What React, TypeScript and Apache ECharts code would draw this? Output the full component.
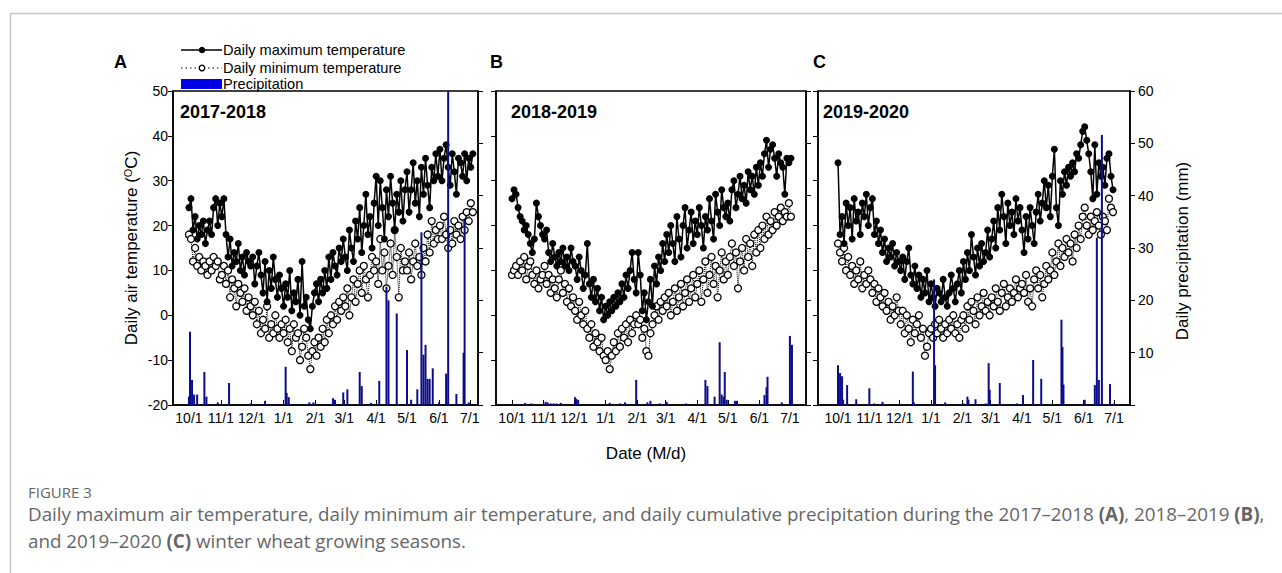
import React, { useEffect, useRef } from "react";
import * as echarts from "echarts";

// ---- axis ticks (days counted from 1 October) ----
const tickDays = [0, 31, 61, 92, 123, 151, 182, 212, 243, 273];
const tickLabels = ["10/1", "11/1", "12/1", "1/1", "2/1", "3/1", "4/1", "5/1", "6/1", "7/1"];
const STEP = 2; // temperature samples every 2 days from 1 October

// ---- 2017-2018 ----
const tmaxA = [
  24, 26, 19, 22, 17, 20, 18, 21, 16, 19, 21, 18, 24, 26, 20, 25,
  22, 26, 18, 13, 17, 11, 14, 12, 16, 10, 13, 9, 14, 12, 11,
  13, 7, 11, 14, 9, 5, 12, 3, 10, 6, 13, 8, 4, 9, 6,
  2, 7, 4, 10, 1, 5, 3, 8, 0, 12, 2, 4, -1, -3, 2, 5,
  7, 3, 8, 5, 10, 6, 13, 8, 14, 11, 9, 15, 12, 17,
  13, 10, 19, 15, 12, 21, 17, 24, 14, 20, 27, 18, 22, 15, 25,
  31, 20, 30, 24, 17, 28, 22, 31, 25, 19, 27, 23, 30, 21, 28,
  32, 23, 28, 34, 25, 30, 22, 33, 27, 35, 29, 24, 33, 30, 36, 31,
  37, 30, 35, 38, 33, 29, 36, 32, 27, 35, 34, 31, 36, 30, 35,
  33, 36,
];
const tminA = [
  18, 17, 12, 15, 11, 13, 10, 12, 11, 9, 12, 10, 13, 11, 12, 8,
  9, 11, 7, 10, 4, 8, 6, 2, 7, 5, 3, 6, 1, 4, 2,
  0, 3, -2, 1, -4, -1, -3, 2, -5, -2, -4, 0, -3, -5, -2,
  -4, -1, -6, -3, -8, -2, -5, -4, -10, -7, -3, -5, -9, -12, -8, -6,
  -9, -5, -7, -3, -6, -1, -4, 0, -2, 2, -1, 3, 1, 4,
  2, 6, 0, 4, 8, 3, 7, 10, 5, 11, 8, 4, 9, 13, 10,
  12, 7, 17, 10, 14, 6, 11, 16, 9, 19, 13, 4, 15, 10, 12,
  10, 14, 8, 12, 16, 11, 13, 9, 15, 12, 18, 14, 21, 16, 19, 17,
  20, 17, 22, 18, 15, 19, 16, 21, 18, 20, 17, 22, 19, 23, 21,
  25, 23,
];
const rainDaysA = [0, 1, 3, 5, 8, 15, 17, 28, 39, 60, 74, 94, 95, 97, 117, 121, 140, 142, 150, 154, 166, 168, 177, 185, 192, 194, 202, 212, 216, 222, 226, 228, 230, 232, 234, 237, 243, 250, 252, 260, 267, 268, 272];
const rainA = [1.6, 14, 4.8, 2, 2, 6.3, 1.6, 0.5, 4.2, 0.3, 0.8, 7.3, 2.3, 1.5, 0.5, 0.5, 1.3, 1, 2.4, 3, 6.3, 3.6, 0.4, 4.6, 22.6, 20, 17.5, 10.5, 1, 3, 33, 9.6, 11.5, 5, 5, 7, 0.5, 6, 65, 2.1, 10, 35.4, 0.5];

// ---- 2018-2019 ----
const tmaxB = [
  26, 28, 27, 24, 22, 21, 19, 20, 18, 16, 14, 17, 25, 22, 20, 18,
  17, 19, 14, 12, 16, 13, 11, 14, 12, 15, 11, 13, 10, 15, 12,
  11, 8, 13, 10, 6, 9, 16, 7, 4, 8, 3, 6, 1, 4, -1,
  2, 0, 3, 1, 4, 2, 5, 3, 7, 4, 9, 6, 10, 14, 8, 5,
  14, 9, 1, 5, -1, 3, 8, 2, 11, 7, 13, 10, 16, 12,
  18, 14, 20, 16, 12, 22, 17, 13, 20, 24, 15, 19, 23, 16, 21,
  18, 24, 20, 15, 22, 19, 26, 21, 17, 27, 23, 20, 28, 24, 22,
  25, 21, 28, 30, 24, 27, 31, 26, 29, 25, 32, 28, 31, 27, 33, 29,
  34, 31, 36, 39, 33, 37, 38, 35, 31, 36, 34, 33, 27, 35, 34,
  35,
];
const tminB = [
  9, 10, 11, 9, 12, 10, 13, 8, 11, 12, 9, 7, 10, 6, 8, 9,
  11, 7, 9, 5, 8, 6, 4, 8, 10, 5, 7, 3, 6, 2, 4,
  1, -1, 3, 0, -2, 1, -3, -5, -2, -7, -4, -6, -8, -5, -9,
  -10, -8, -12, -9, -6, -8, -4, -7, -3, -5, -2, -6, -1, -4, -2, 0,
  -2, -1, -5, -3, -8, -9, -4, -2, 0, 2, -1, 3, 1, 4,
  2, 5, 0, 3, 6, 1, 4, 7, 2, 5, 8, 3, 6, 9, 4,
  7, 10, 3, 8, 12, 5, 9, 13, 7, 11, 4, 10, 14, 8, 12,
  9, 13, 16, 11, 14, 6, 12, 15, 10, 17, 13, 16, 11, 18, 14, 19,
  15, 20, 17, 22, 18, 21, 19, 23, 20, 22, 24, 21, 23, 22, 25,
  22,
];
const rainDaysB = [13, 19, 33, 35, 38, 41, 44, 48, 62, 63, 65, 96, 106, 111, 122, 133, 136, 145, 152, 171, 190, 192, 199, 204, 206, 208, 209, 211, 219, 221, 248, 250, 251, 265, 273, 275];
const rainB = [0.4, 0.3, 0.6, 0.5, 0.3, 0.3, 0.3, 0.4, 1.5, 1.2, 1, 0.4, 0.3, 0.5, 4.8, 0.5, 0.8, 0.3, 0.6, 0.3, 4.8, 3.6, 1.6, 12, 2, 1.6, 6.3, 1, 0.8, 0.8, 1.9, 3.4, 5.4, 0.5, 13.2, 11.5];

// ---- 2019-2020 ----
const tmaxC = [
  34, 18, 22, 16, 25, 20, 24, 17, 26, 21, 23, 18, 25, 22, 27, 20,
  24, 26, 18, 21, 16, 19, 14, 17, 12, 15, 13, 16, 11, 14, 12,
  10, 13, 8, 12, 15, 9, 7, 11, 6, 9, 4, 8, 5, 10, 3,
  7, 4, 2, 6, 5, 3, 8, 4, 2, 5, 9, 6, 3, 7, 10, 5,
  12, 8, 14, 10, 18, 13, 9, 15, 11, 16, 12, 14, 19, 13,
  17, 21, 15, 24, 19, 27, 22, 16, 25, 20, 23, 18, 26, 21, 24,
  19, 14, 22, 17, 24, 20, 16, 23, 27, 21, 25, 30, 24, 29, 22,
  31, 37, 24, 20, 30, 27, 32, 29, 33, 31, 34, 32, 36, 35, 38, 41,
  42, 39, 36, 32, 26, 38, 27, 34, 31, 33, 29, 35, 36, 31, 28,
];
const tminC = [
  16, 14, 12, 15, 10, 13, 9, 11, 7, 10, 8, 12, 6, 9, 7, 10,
  8, 5, 7, 3, 6, 4, 2, 5, 1, 3, -1, 2, 0, 4, 1,
  -2, 1, -4, 0, -3, -6, -1, -4, -2, 0, -5, -3, -9, -7, -4,
  -3, -5, -2, -4, -1, -3, -5, -2, -4, -1, -3, 0, -4, -2, -5, -1,
  0, -3, 2, -1, 3, 1, -2, 4, 0, 2, 5, 1, 3, 0,
  4, 2, 6, 3, 1, 5, 7, 2, 4, 6, 3, 5, 8, 4, 6,
  7, 5, 9, 3, 6, 2, 8, 10, 6, 9, 4, 7, 11, 8, 10,
  14, 9, 12, 16, 11, 15, 13, 17, 14, 16, 12, 18, 15, 20, 17, 22,
  24, 20, 18, 22, 19, 21, 23, 20, 18, 22, 21, 19, 26, 24, 23,
];
const rainDaysC = [0, 1, 2, 4, 5, 9, 18, 31, 36, 44, 74, 75, 95, 96, 106, 124, 128, 129, 136, 146, 149, 150, 160, 177, 183, 193, 201, 221, 222, 223, 244, 254, 256, 258, 261, 269, 273];
const rainC = [7.6, 1, 6.1, 5.5, 1, 3.8, 1.1, 3.2, 0.3, 0.6, 6.4, 0.5, 24, 7.6, 0.5, 0.3, 1.6, 1, 1.1, 0.3, 8, 2.9, 4.2, 0.3, 1.9, 8.6, 5, 16.3, 11.1, 3.9, 1, 3.8, 32, 4.8, 51.6, 4, 0.3];

const seasons = ["2017-2018", "2018-2019", "2019-2020"];
const letters = ["A", "B", "C"];

const FONT = 'Arial, "Liberation Sans", sans-serif';
const CAP_FONT = '"Open Sans", "Noto Sans", sans-serif';

export default function App() {
  const ref = useRef<HTMLDivElement>(null);

  useEffect(() => {
    document.body.style.margin = "0";
    if (!ref.current) return;
    const chart = echarts.init(ref.current, null, { renderer: "svg" });

    const panels = [
      { left: 173, width: 305, xMin: -15.5, xMax: 281, tmax: tmaxA, tmin: tminA, rd: rainDaysA, rv: rainA, letterX: 114, titleX: 180 },
      { left: 496, width: 310, xMin: -15.7, xMax: 288.8, tmax: tmaxB, tmin: tminB, rd: rainDaysB, rv: rainB, letterX: 490, titleX: 511 },
      { left: 818, width: 312, xMin: -19.8, xMax: 288.8, tmax: tmaxC, tmin: tminC, rd: rainDaysC, rv: rainC, letterX: 813, titleX: 823 },
    ];
    const TOP = 91;
    const H = 314;

    const tickFmt = (v: number) => {
      const k = tickDays.indexOf(Math.round(v));
      return k >= 0 ? tickLabels[k] : "";
    };

    const grid = panels.map((p) => ({
      left: p.left, top: TOP, width: p.width, height: H,
      show: true, borderColor: "#000", borderWidth: 1.5, backgroundColor: "transparent",
    }));

    const xAxis = panels.map((p, i) => ({
      type: "value", gridIndex: i, min: p.xMin, max: p.xMax,
      splitLine: { show: false },
      axisLine: { show: true, onZero: false, lineStyle: { color: "#000", width: 1.5 } },
      axisTick: { show: true, inside: true, length: 5, customValues: tickDays, lineStyle: { color: "#000" } },
      axisLabel: { customValues: tickDays, formatter: tickFmt, fontSize: 14, color: "#000", fontFamily: FONT, margin: 6 },
    }));

    const yAxis: any[] = [];
    panels.forEach((p, i) => {
      yAxis.push({
        type: "value", gridIndex: i, min: -20, max: 50, interval: 10, position: "left",
        splitLine: { show: false },
        axisLine: { show: true, onZero: false, lineStyle: { color: "#000", width: 1.5 } },
        axisTick: { show: true, inside: false, length: 5, lineStyle: { color: "#000" } },
        axisLabel: { show: i === 0, fontSize: 14, color: "#000", fontFamily: FONT, margin: 5 },
      });
      yAxis.push({
        type: "value", gridIndex: i, min: 0, max: 60, interval: 10, position: "right",
        splitLine: { show: false },
        axisLine: { show: true, onZero: false, lineStyle: { color: "#000", width: 1.5 } },
        axisTick: { show: true, inside: false, length: 5, lineStyle: { color: "#000" } },
        axisLabel: {
          show: i === 2, fontSize: 14, color: "#000", fontFamily: FONT, margin: 8,
          formatter: (v: number) => (v === 0 ? "" : String(v)),
        },
      });
    });

    const series: any[] = [];
    panels.forEach((p, i) => {
      series.push({
        name: "Daily minimum temperature", type: "line", xAxisIndex: i, yAxisIndex: 2 * i,
        data: p.tmin.map((v, k) => [k * STEP, v]),
        symbol: "circle", symbolSize: 7,
        itemStyle: { color: "#fff", borderColor: "#000", borderWidth: 1.3 },
        lineStyle: { color: "#000", width: 1, type: "dotted" },
        z: 2, silent: true,
      });
      series.push({
        name: "Daily maximum temperature", type: "line", xAxisIndex: i, yAxisIndex: 2 * i,
        data: p.tmax.map((v, k) => [k * STEP, v]),
        symbol: "circle", symbolSize: 7,
        itemStyle: { color: "#000" },
        lineStyle: { color: "#000", width: 1.5 },
        z: 3, silent: true,
      });
      series.push({
        name: "Precipitation", type: "bar", xAxisIndex: i, yAxisIndex: 2 * i + 1,
        data: p.rd.map((d, k) => [d, p.rv[k]]),
        barWidth: 2, clip: true,
        itemStyle: { color: "#0d0d8a" },
        z: 4, silent: true,
      });
    });

    const txt = (x: number, y: number, text: string, fontSize: number, extra: any = {}, align = "left") => ({
      type: "text", x, y,
      style: {
        text, fontSize, fontFamily: FONT, fill: "#000",
        align, verticalAlign: "middle", textAlign: align, textVerticalAlign: "middle",
        ...extra,
      },
    });

    const graphic: any[] = [
      { type: "line", shape: { x1: 10.5, y1: 13.5, x2: 1282, y2: 13.5 }, style: { stroke: "#c4c4c4", lineWidth: 1.5 }, silent: true },
      { type: "line", shape: { x1: 10.5, y1: 13.5, x2: 10.5, y2: 573 }, style: { stroke: "#c4c4c4", lineWidth: 1.5 }, silent: true },
      // legend
      { type: "line", shape: { x1: 181, y1: 50, x2: 222, y2: 50 }, style: { stroke: "#000", lineWidth: 1.5 } },
      { type: "circle", shape: { cx: 202, cy: 50, r: 3.3 }, style: { fill: "#000" } },
      txt(223, 50, "Daily maximum temperature", 14.6),
      { type: "line", shape: { x1: 181, y1: 68, x2: 222, y2: 68 }, style: { stroke: "#000", lineWidth: 1.2, lineDash: [1.5, 3] } },
      { type: "circle", shape: { cx: 202, cy: 68, r: 2.8 }, style: { fill: "#fff", stroke: "#000", lineWidth: 1.3 } },
      txt(223, 68, "Daily minimum temperature", 14.6),
      { type: "rect", shape: { x: 181, y: 79, width: 41, height: 10 }, style: { fill: "#0000e6" } },
      txt(223, 84, "Precipitation", 14.6),
      // axis names
      {
        type: "text", x: 131, y: 248, rotation: Math.PI / 2,
        style: {
          text: "Daily air temperature ({s|O}C)", fontSize: 17, fontFamily: FONT, fill: "#000",
          align: "center", verticalAlign: "middle", textAlign: "center", textVerticalAlign: "middle",
          rich: { s: { fontSize: 11, fontFamily: FONT, verticalAlign: "top", fill: "#000", padding: [0, 0, 6, 0] } },
        },
      },
      {
        type: "text", x: 1182, y: 251, rotation: Math.PI / 2,
        style: { text: "Daily precipitation (mm)", fontSize: 17, fontFamily: FONT, fill: "#000", align: "center", verticalAlign: "middle", textAlign: "center", textVerticalAlign: "middle" },
      },
      txt(646, 453, "Date (M/d)", 17, {}, "center"),
      // caption
      txt(28, 492, "FIGURE 3", 15, { fontFamily: CAP_FONT, fill: "#666" }),
      txt(28, 514,
        "Daily maximum air temperature, daily minimum air temperature, and daily cumulative precipitation during the 2017–2018 {b|(A)}, 2018–2019 {b|(B)},",
        18.8, { fontFamily: CAP_FONT, fill: "#666", rich: { b: { fontWeight: "bold", fontSize: 18.8, fontFamily: CAP_FONT, fill: "#666" } } }),
      txt(28, 541,
        "and 2019–2020 {b|(C)} winter wheat growing seasons.",
        18.8, { fontFamily: CAP_FONT, fill: "#666", rich: { b: { fontWeight: "bold", fontSize: 18.8, fontFamily: CAP_FONT, fill: "#666" } } }),
    ];
    panels.forEach((p, i) => {
      graphic.push(txt(p.letterX, 62, letters[i], 18, { fontWeight: "bold" }));
      graphic.push(txt(p.titleX, 112, seasons[i], 18, { fontWeight: "bold" }));
    });

    chart.setOption({
      animation: false,
      backgroundColor: "#fff",
      grid, xAxis, yAxis, series, graphic,
    } as any);

    return () => chart.dispose();
  }, []);

  return <div ref={ref} style={{ width: 1282, height: 573 }} />;
}
